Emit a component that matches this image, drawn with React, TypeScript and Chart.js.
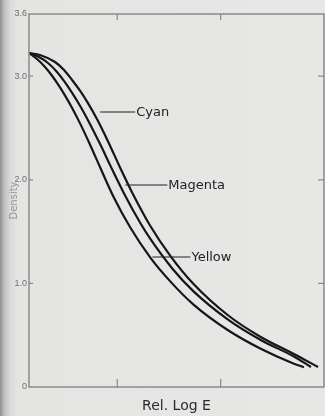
import { useEffect, useRef } from "react";
import { Chart, registerables } from "chart.js";
Chart.register(...registerables);

// Rel. Log E (axis units: one unit per tick interval) and Density for each dye layer
const cyanLogE = [0.146, 0.252, 0.398, 0.485, 0.563, 0.641, 0.718, 0.806, 0.913, 1.029, 1.146, 1.32, 1.515, 1.738, 2.068, 2.388, 2.709, 2.942];
const cyanDensity = [3.224, 3.205, 3.137, 3.06, 2.963, 2.857, 2.737, 2.581, 2.365, 2.114, 1.873, 1.554, 1.264, 0.994, 0.695, 0.483, 0.319, 0.193];

const magentaLogE = [0.146, 0.233, 0.33, 0.417, 0.495, 0.563, 0.641, 0.718, 0.835, 0.932, 1.078, 1.223, 1.32, 1.534, 1.738, 2.068, 2.388, 2.709, 2.874];
const magentaDensity = [3.224, 3.189, 3.127, 3.041, 2.94, 2.838, 2.712, 2.573, 2.342, 2.139, 1.844, 1.583, 1.429, 1.142, 0.923, 0.653, 0.454, 0.294, 0.193];

const yellowLogE = [0.146, 0.223, 0.301, 0.369, 0.427, 0.495, 0.563, 0.641, 0.738, 0.835, 0.961, 1.126, 1.32, 1.515, 1.738, 2.068, 2.388, 2.709, 2.806];
const yellowDensity = [3.224, 3.166, 3.089, 3.004, 2.92, 2.812, 2.693, 2.542, 2.336, 2.118, 1.842, 1.539, 1.249, 1.017, 0.795, 0.55, 0.369, 0.225, 0.191];

// Curve labels: name, where the leader line starts (data coords), leader length
const labelNames = ["Cyan", "Magenta", "Yellow"];
const labelLogE = [0.835, 1.078, 1.34];
const labelDensity = [2.654, 1.95, 1.255];
const labelLeader = [35, 42, 38];

const xTickValues = [1, 2];
const yTickValues = [0, 1, 2, 3, 3.6];
const xMin = 0.146;
const xMax = 3.0;
const yMin = 0;
const yMax = 3.6;

export default function App() {
  const ref = useRef<HTMLCanvasElement>(null);

  useEffect(() => {
    if (!ref.current) return;
    const pts = (xs: number[], ys: number[]) => xs.map((x, i) => ({ x, y: ys[i] }));

    const decor = {
      id: "decor",
      afterDraw(chart: any) {
        const { ctx, chartArea: a, scales } = chart;
        const xs = scales.x;
        const ys = scales.y;
        ctx.save();
        // frame
        ctx.strokeStyle = "#8a8a8a";
        ctx.lineWidth = 1.5;
        ctx.strokeRect(a.left, a.top, a.right - a.left, a.bottom - a.top);
        // inward tick marks
        ctx.lineWidth = 1.2;
        ctx.beginPath();
        xs.ticks.forEach((t: any) => {
          const p = xs.getPixelForValue(t.value);
          ctx.moveTo(p, a.bottom);
          ctx.lineTo(p, a.bottom - 8);
          ctx.moveTo(p, a.top);
          ctx.lineTo(p, a.top + 6);
        });
        ys.ticks.forEach((t: any) => {
          if (t.value <= yMin || t.value >= yMax) return;
          const p = ys.getPixelForValue(t.value);
          ctx.moveTo(a.left, p);
          ctx.lineTo(a.left + 4, p);
          ctx.moveTo(a.right, p);
          ctx.lineTo(a.right - 6, p);
        });
        ctx.stroke();
        // curve labels with leader lines
        ctx.strokeStyle = "#222";
        ctx.fillStyle = "#222";
        ctx.lineWidth = 1.1;
        ctx.font = "13px 'DejaVu Sans'";
        ctx.textBaseline = "middle";
        ctx.textAlign = "left";
        labelNames.forEach((name, i) => {
          const px = xs.getPixelForValue(labelLogE[i]);
          const py = ys.getPixelForValue(labelDensity[i]);
          ctx.beginPath();
          ctx.moveTo(px, py);
          ctx.lineTo(px + labelLeader[i], py);
          ctx.stroke();
          ctx.fillText(name, px + labelLeader[i] + 1, py + 0.5);
        });
        ctx.restore();
      },
    };

    const lineStyle = {
      borderColor: "#161616",
      borderWidth: 2.2,
      pointRadius: 0,
      cubicInterpolationMode: "monotone" as const,
      fill: false,
    };

    const chart = new Chart(ref.current, {
      type: "line",
      data: {
        datasets: [
          { label: "Cyan", data: pts(cyanLogE, cyanDensity), ...lineStyle },
          { label: "Magenta", data: pts(magentaLogE, magentaDensity), ...lineStyle },
          { label: "Yellow", data: pts(yellowLogE, yellowDensity), ...lineStyle },
        ],
      },
      options: {
        animation: false,
        responsive: true,
        maintainAspectRatio: false,
        layout: { padding: { top: 14, right: 1, left: 0, bottom: 0 } },
        plugins: { legend: { display: false }, tooltip: { enabled: false } },
        scales: {
          x: {
            type: "linear",
            min: xMin,
            max: xMax,
            afterBuildTicks: (s: any) => {
              s.ticks = xTickValues.map((v) => ({ value: v }));
            },
            afterFit: (s: any) => {
              s.height = 29;
            },
            grid: { display: false, drawTicks: false },
            border: { display: false },
            ticks: { display: false },
            title: {
              display: true,
              text: "Rel. Log E",
              color: "#2a2a2a",
              font: { family: "'DejaVu Sans'", size: 14 },
              padding: { top: 0, bottom: 1 },
            },
          },
          y: {
            type: "linear",
            min: yMin,
            max: yMax,
            afterBuildTicks: (s: any) => {
              s.ticks = yTickValues.map((v) => ({ value: v }));
            },
            afterFit: (s: any) => {
              s.width = 29;
            },
            grid: { display: false, drawTicks: false },
            border: { display: false },
            ticks: {
              padding: 2,
              color: "#6f6f6f",
              font: { family: "'Liberation Sans'", size: 9 },
              callback: (v: any) => (Number(v) === 0 ? "0" : Number(v).toFixed(1)),
            },
            title: {
              display: true,
              text: "Density",
              color: "#959595",
              font: { family: "'DejaVu Sans'", size: 10 },
              padding: { top: 8, bottom: 0 },
            },
          },
        },
      },
      plugins: [decor],
    });
    return () => chart.destroy();
  }, []);

  return (
    <div
      style={{
        position: "fixed",
        left: 0,
        top: 0,
        width: 325,
        height: 416,
        background:
          "linear-gradient(to right, #8f8f8f 0px, #c4c4c4 5px, #dcdcdc 11px, #e4e4e3 18px, #e7e7e6 100%)",
      }}
    >
      <canvas ref={ref} />
    </div>
  );
}
